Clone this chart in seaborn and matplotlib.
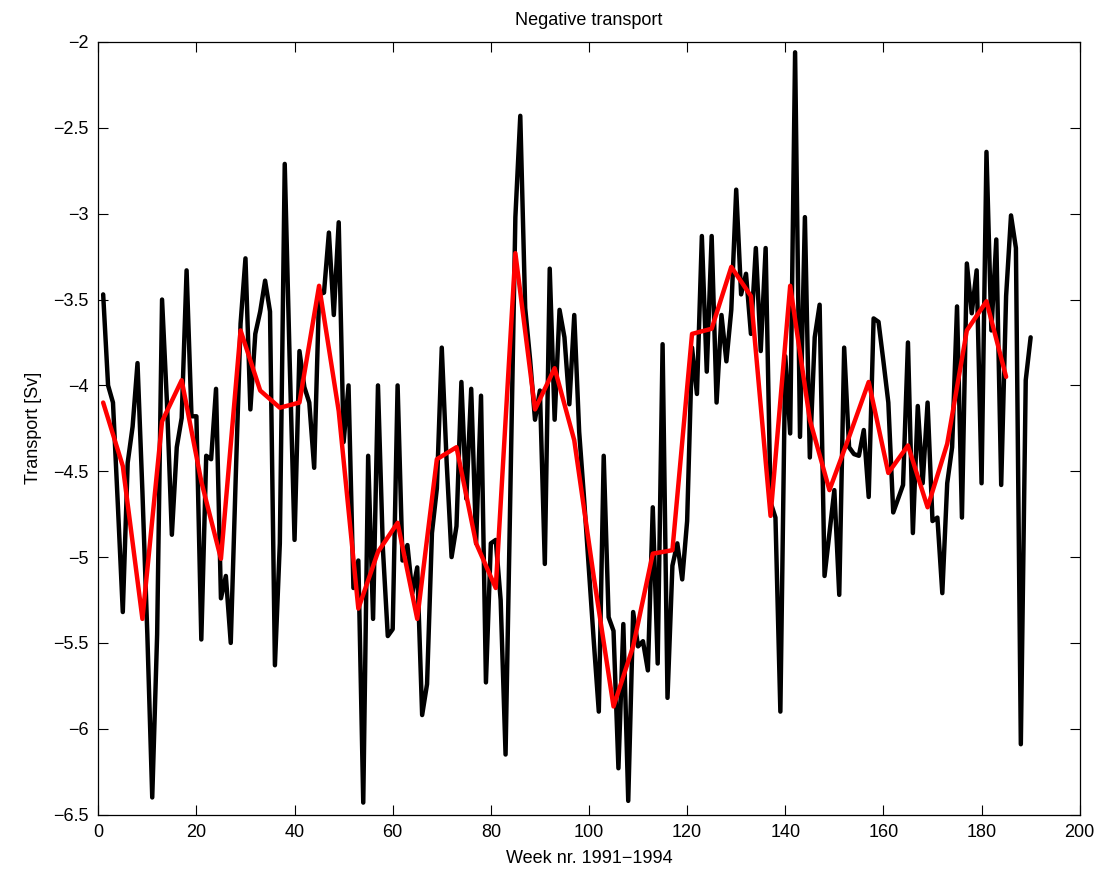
import numpy as np
import pandas as pd
import matplotlib
matplotlib.use("Agg")
import matplotlib.pyplot as plt
import seaborn as sns

# Weekly negative transport [Sv], weeks 1..190
weekly_transport = [
    -3.47, -4.00, -4.10, -4.70, -5.32, -4.45, -4.24, -3.87, -4.62, -5.45,
    -6.40, -5.45, -3.50, -4.10, -4.87, -4.36, -4.19, -3.33, -4.18, -4.18,
    -5.48, -4.41, -4.43, -4.02, -5.24, -5.11, -5.50, -4.55, -3.64, -3.26,
    -4.14, -3.70, -3.57, -3.39, -3.57, -5.63, -4.92, -2.71, -3.85, -4.90,
    -3.80, -4.01, -4.10, -4.48, -3.47, -3.46, -3.11, -3.59, -3.05, -4.33,
    -4.00, -5.18, -5.02, -6.43, -4.41, -5.36, -4.00, -4.95, -5.46, -5.42,
    -4.00, -5.02, -4.93, -5.21, -5.06, -5.92, -5.74, -4.86, -4.60, -3.78,
    -4.45, -5.00, -4.82, -3.98, -4.66, -4.02, -4.92, -4.06, -5.73, -4.92,
    -4.90, -5.25, -6.15, -4.60, -3.02, -2.43, -3.55, -3.85, -4.20, -4.03,
    -5.04, -3.32, -4.20, -3.56, -3.72, -4.11, -3.59, -4.27, -4.66, -5.08,
    -5.50, -5.90, -4.41, -5.35, -5.43, -6.23, -5.39, -6.42, -5.32, -5.52,
    -5.49, -5.66, -4.71, -5.62, -3.76, -5.82, -5.05, -4.92, -5.13, -4.79,
    -3.78, -4.05, -3.13, -3.92, -3.13, -4.10, -3.59, -3.86, -3.56, -2.86,
    -3.47, -3.35, -3.70, -3.20, -3.80, -3.20, -4.68, -4.77, -5.90, -3.83,
    -4.28, -2.06, -4.30, -3.02, -4.42, -3.72, -3.53, -5.11, -4.86, -4.61,
    -5.22, -3.78, -4.36, -4.40, -4.41, -4.26, -4.65, -3.61, -3.63, -3.86,
    -4.10, -4.74, -4.66, -4.58, -3.75, -4.86, -4.12, -4.57, -4.10, -4.79,
    -4.77, -5.21, -4.57, -4.36, -3.54, -4.77, -3.29, -3.58, -3.33, -4.57,
    -2.64, -3.68, -3.15, -4.58, -3.48, -3.01, -3.20, -6.09, -3.97, -3.72,
]
weeks = list(range(1, len(weekly_transport) + 1))

# Four-weekly mean transport, weeks 1, 5, ..., 185
mean_weeks = list(range(1, 186, 4))
mean_transport = [
    -4.10, -4.47, -5.36, -4.21, -3.97, -4.56, -5.01, -3.68, -4.03, -4.13,
    -4.10, -3.42, -4.15, -5.30, -4.97, -4.80, -5.36, -4.43, -4.36, -4.92,
    -5.18, -3.23, -4.14, -3.90, -4.32, -5.12, -5.87, -5.52, -4.98, -4.96,
    -3.70, -3.67, -3.31, -3.48, -4.76, -3.42, -4.20, -4.61, -4.30, -3.98,
    -4.51, -4.35, -4.71, -4.34, -3.68, -3.51, -3.95,
]

x_ticks = [0, 20, 40, 60, 80, 100, 120, 140, 160, 180, 200]
y_ticks = [-6.5, -6, -5.5, -5, -4.5, -4, -3.5, -3, -2.5, -2]

sns.set_theme(style="white")
plt.rcParams["font.family"] = ["Liberation Sans", "DejaVu Sans"]
plt.rcParams["axes.unicode_minus"] = True

weekly = pd.DataFrame({"week": weeks, "transport": weekly_transport})
monthly = pd.DataFrame({"week": mean_weeks, "transport": mean_transport})

fig = plt.figure(figsize=(11.04, 8.75), dpi=100)
ax = fig.add_axes([0.089, 0.069, 0.889, 0.883])

sns.lineplot(data=weekly, x="week", y="transport", ax=ax,
             color="black", linewidth=3.2)
sns.lineplot(data=monthly, x="week", y="transport", ax=ax,
             color="#ff0000", linewidth=3.2)

ax.set_xlim(0, 200)
ax.set_ylim(-6.5, -2)
ax.set_xticks(x_ticks)
ax.set_yticks(y_ticks)
ax.set_xticklabels([f"{t:g}".replace("-", "\u2212 ") for t in x_ticks], fontsize=13)
ax.set_yticklabels([f"{t:g}".replace("-", "\u2212") for t in y_ticks], fontsize=13)

ax.tick_params(axis="both", which="both", direction="in", length=7, width=0.8,
               top=True, right=True, bottom=True, left=True, color="black",
               pad=7, labelcolor="black")
for spine in ax.spines.values():
    spine.set_visible(True)
    spine.set_color("black")
    spine.set_linewidth(0.9)

ax.set_title("Negative transport", fontsize=13, pad=12, color="black")
ax.set_xlabel("Week nr. 1991\u22121994", fontsize=13, labelpad=6, color="black")
ax.set_ylabel("Transport [Sv]", fontsize=13, labelpad=8, color="black")
ax.grid(False)

fig.savefig("out.png", dpi=100, facecolor="white")
